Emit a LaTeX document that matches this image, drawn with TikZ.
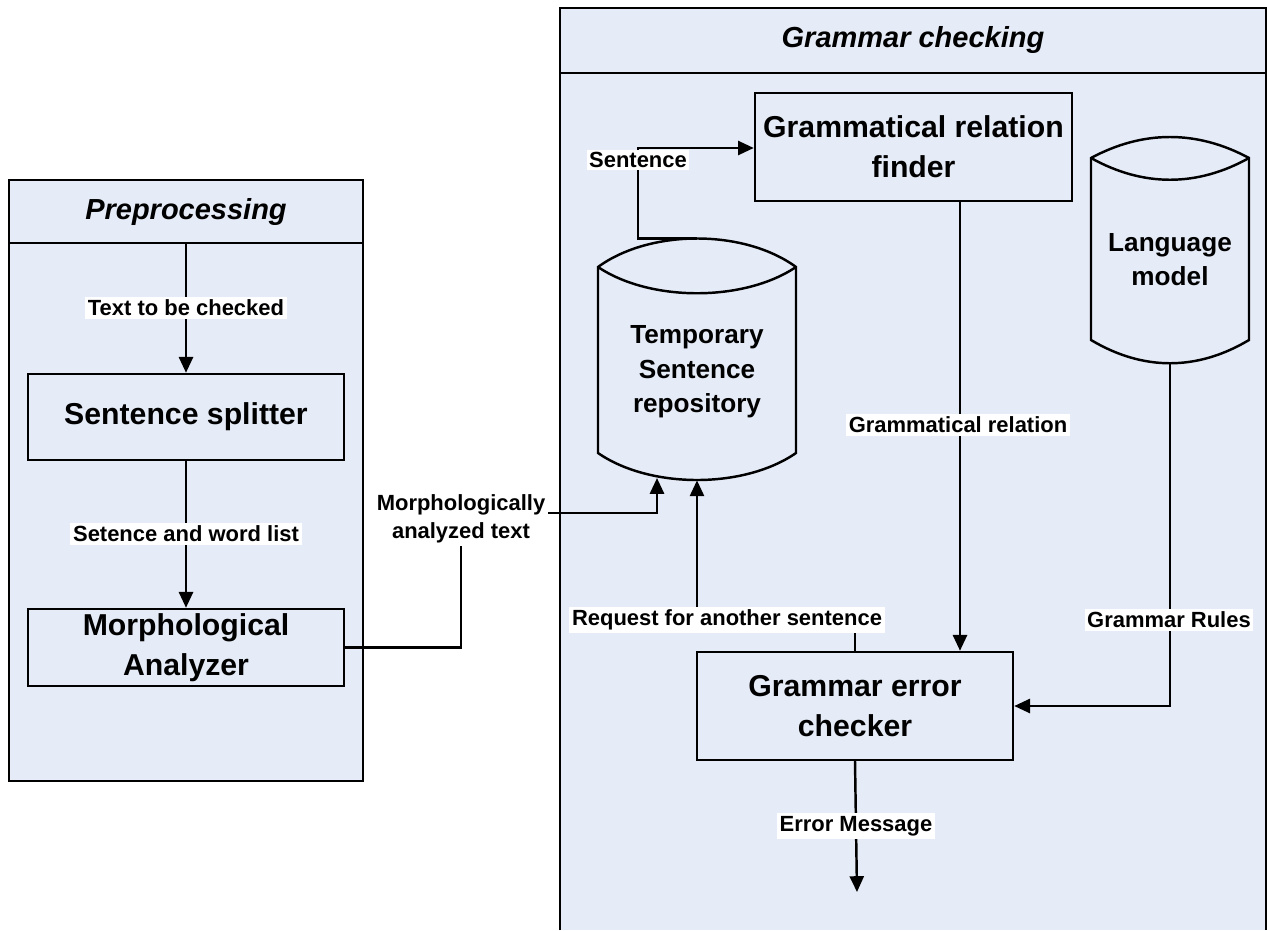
\documentclass[tikz,border=0pt]{standalone}
\usepackage{fontspec}
\setmainfont{Liberation Sans}
\usetikzlibrary{arrows.meta}
\definecolor{bluebg}{RGB}{230,236,247}

\begin{document}
\begin{tikzpicture}[x=0.02cm,y=-0.02cm,
  frame/.style={fill=bluebg,line width=1.6pt},
  box/.style={draw,fill=bluebg,line width=1.4pt,align=center,inner sep=0pt,
    font=\bfseries\fontsize{17.2}{22.7}\selectfont},
  dbline/.style={draw,fill=bluebg,line width=1.4pt},
  dbtext/.style={align=center,font=\bfseries\fontsize{14.9}{19.6}\selectfont},
  lbl/.style={fill=white,inner sep=1.5pt,align=center,
    font=\bfseries\fontsize{12.5}{15.9}\selectfont},
  ttl/.style={font=\bfseries\itshape\fontsize{16.5}{20}\selectfont},
  link/.style={line width=1.4pt},
  arr/.style={link,-{Triangle[length=9pt,width=8pt]}}]
  \useasboundingbox (0,0) rectangle (1267,930);

  % Preprocessing panel
  \draw[frame] (9,180) rectangle (363,781);
  \draw[frame] (9,243) -- (363,243);
  \node[ttl] (pretitle) at (186,212) {Preprocessing};
  \node[box,minimum width=6.32cm,minimum height=1.72cm] (split) at (186,417) {Sentence splitter};
  \node[box,minimum width=6.32cm,minimum height=1.54cm] (morph) at (186,647.5) {Morphological\\Analyzer};

  % Grammar checking panel
  \fill[bluebg] (560,8) rectangle (1267,930);
  \draw[frame] (560,930) |- (1266,8) -- (1266,930);
  \draw[frame] (560,73) -- (1266,73);
  \node[ttl] (gctitle) at (913,40) {Grammar checking};
  \node[box,minimum width=6.34cm,minimum height=2.16cm] (relfind) at (913.5,147) {Grammatical relation\\finder};
  \node[box,minimum width=6.32cm,minimum height=2.16cm] (errcheck) at (855,706) {Grammar error\\checker};

  % temporary sentence repository
  \node[minimum width=3.96cm,minimum height=4.82cm,inner sep=0pt] (temp) at (697,359.5) {};
  \draw[dbline] (598,267) .. controls (650,229) and (744,229) .. (796,267) -- (796,453)
    .. controls (744,489) and (650,489) .. (598,453) -- cycle;
  \draw[link] (598,267) .. controls (650,302) and (744,302) .. (796,267);
  \node[dbtext] (temptxt) at (697,372) {Temporary\\Sentence\\repository};

  % language model
  \node[minimum width=3.16cm,minimum height=4.52cm,inner sep=0pt] (langmod) at (1170,250) {};
  \draw[dbline] (1091,158) .. controls (1143,130) and (1197,130) .. (1249,158) -- (1249,340)
    .. controls (1197,371) and (1143,371) .. (1091,340) -- cycle;
  \draw[link] (1091,158) .. controls (1143,187) and (1197,187) .. (1249,158);
  \node[dbtext] (langtxt) at (1170,259.5) {Language\\model};

  \coordinate (tempin) at (657,478);
  \coordinate (errout) at (857,892);

  % connectors
  \draw[arr] (186,243) -- (split.north);
  \draw[arr] (split.south) -- (morph.north);
  \node[lbl] (txtlbl) at (186,308) {Text to be checked};
  \node[lbl] (wordlbl) at (186,534) {Setence and word list};

  \node[lbl,fill=none] (morphlbl) at (461,519) {Morphologically\\analyzed text};
  \draw[link] (morph.east) -| (morphlbl.south);
  \draw[arr] (morphlbl.east |- 0,513) -| (tempin);

  \draw[arr] (temp.north) -| (638,148) -- (relfind.west |- 0,148);
  \node[lbl] (sentlbl) at (638,160) {Sentence};

  \draw[arr] (relfind.south -| 960,0) -- (errcheck.north -| 960,0);
  \node[lbl] (rellbl) at (958,425) {Grammatical relation};

  \draw[arr] (langmod.south) |- (errcheck.east);
  \node[lbl] (ruleslbl) at (1169,620) {Grammar Rules};

  \draw[arr] (errcheck.north) -- ++(0,-32) -| (temp.south);
  \node[lbl] (reqlbl) at (727,620) {Request for another sentence};

  \draw[arr] (errcheck.south) -- (errout);
  \node[lbl] (msglbl) at (856,826) {Error Message};
\end{tikzpicture}
\end{document}
